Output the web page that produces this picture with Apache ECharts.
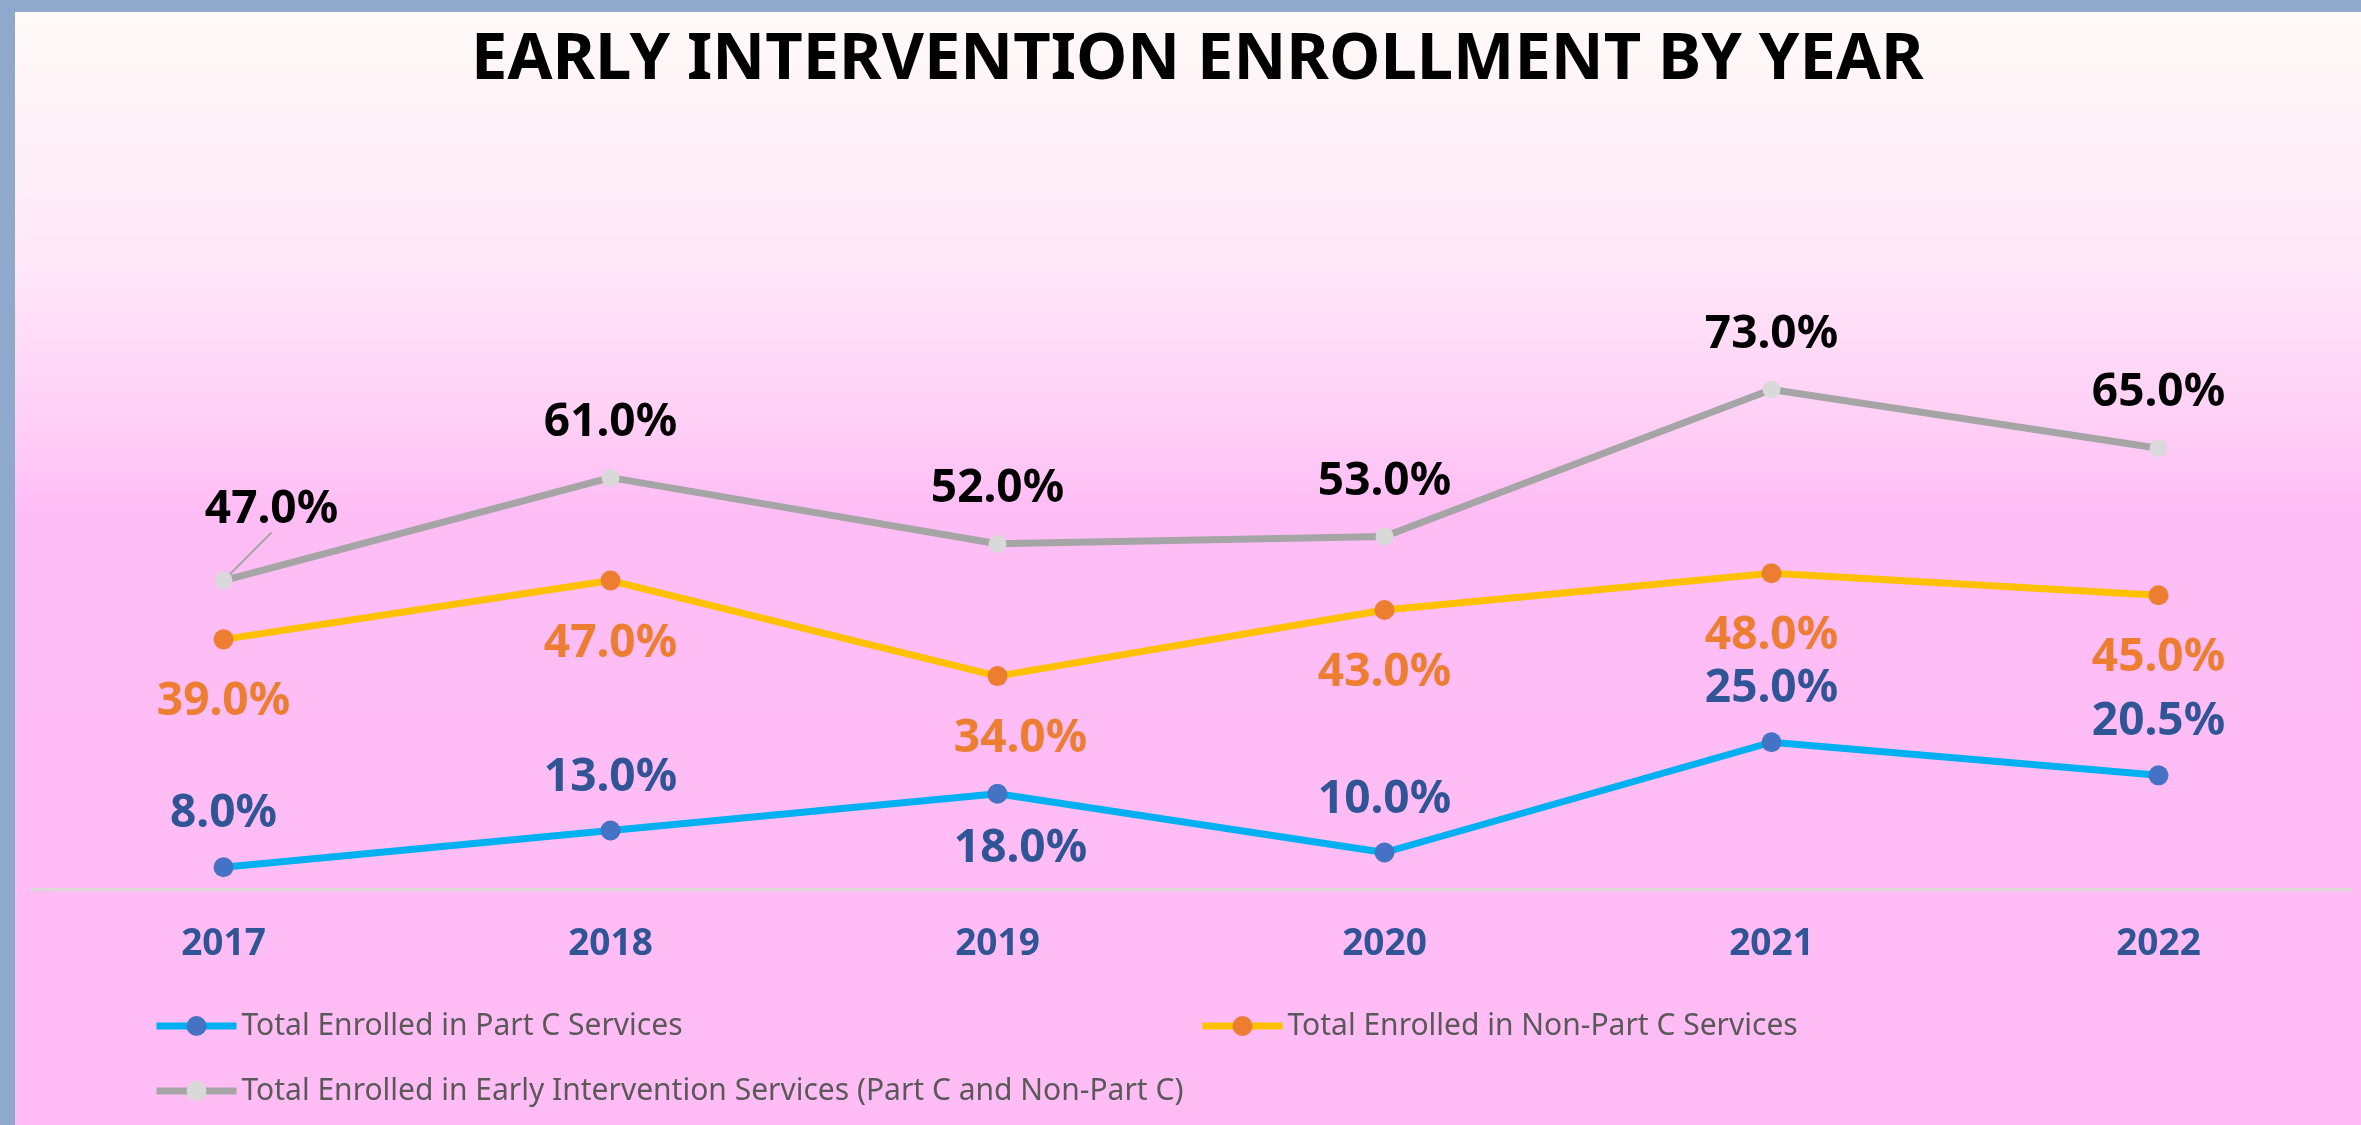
<!DOCTYPE html>
<html>
<head>
<meta charset="utf-8">
<title>Early Intervention Enrollment by Year</title>
<script src="https://cdn.jsdelivr.net/npm/echarts@6/dist/echarts.min.js"></script>
<style>
  html, body { margin: 0; padding: 0; background: #8EA9CC; }
  #chart { width: 2361px; height: 1125px; }
</style>
</head>
<body>
<div id="chart"></div>
<script>
// data
const years = ["2017", "2018", "2019", "2020", "2021", "2022"];
const partC = [8.0, 13.0, 18.0, 10.0, 25.0, 20.5];
const nonPartC = [39.0, 47.0, 34.0, 43.0, 48.0, 45.0];
const totalEI = [47.0, 61.0, 52.0, 53.0, 73.0, 65.0];
const seriesNames = [
  "Total Enrolled in Part C Services",
  "Total Enrolled in Non-Part C Services",
  "Total Enrolled in Early Intervention Services (Part C and Non-Part C)"
];
const gridLineValue = 5;

const FONT = "'Noto Sans', 'Open Sans', sans-serif";

function pctLabel(color, position, distance) {
  return {
    show: true,
    position: position,
    distance: distance,
    color: color,
    fontFamily: FONT,
    fontWeight: "bold",
    fontSize: 46,
    formatter: p => p.value.toFixed(1) + "%"
  };
}

// per-point label tweaks (index -> label override)
function buildData(values, nudge) {
  return values.map((v, i) => {
    const item = { value: v };
    if (nudge[i]) item.label = nudge[i];
    return item;
  });
}

const partCData = buildData(partC, {
  2: { position: "bottom", distance: 22, offset: [23, 0] }
});
const nonPartCData = buildData(nonPartC, {
  2: { offset: [23, 0] }
});
const totalData = buildData(totalEI, {});
totalData[0].labelLine = { show: true, lineStyle: { color: "#A5A5A5", width: 2 } };

const chart = echarts.init(document.getElementById("chart"));
chart.setOption({
  animation: false,
  backgroundColor: "#8EA9CC",
  graphic: [{
    type: "rect",
    z: -10,
    shape: { x: 15, y: 12, width: 2346, height: 1113 },
    style: {
      fill: new echarts.graphic.LinearGradient(0, 0, 0, 1, [
        { offset: 0, color: "#FFFAF8" },
        { offset: 0.22, color: "#FFE8F8" },
        { offset: 0.37, color: "#FFCFF6" },
        { offset: 0.45, color: "#FFBDF5" },
        { offset: 1, color: "#FFBCF5" }
      ])
    }
  }],
  title: {
    text: "EARLY INTERVENTION ENROLLMENT BY YEAR",
    left: 466,
    top: 23,
    textStyle: { fontFamily: FONT, fontWeight: "bold", fontSize: 65, color: "#000" }
  },
  legend: [
    { data: [seriesNames[0]], left: 148, top: 1006 },
    { data: [seriesNames[1]], left: 1194, top: 1006 },
    { data: [seriesNames[2]], left: 148, top: 1071 }
  ].map(l => Object.assign(l, {
    itemWidth: 80,
    itemHeight: 25,
    lineStyle: { width: 7 },
    textStyle: { fontFamily: FONT, fontSize: 30, color: "#595959" }
  })),
  grid: { left: 30, right: 9, top: 338, bottom: 199 },
  xAxis: {
    type: "category",
    data: years,
    boundaryGap: true,
    axisLine: { show: false },
    axisTick: { show: false },
    axisLabel: { margin: 0, color: "#2F5597", fontFamily: FONT, fontWeight: "bold", fontSize: 37 }
  },
  yAxis: {
    type: "value",
    min: 0,
    max: 80,
    interval: 10,
    show: false,
    splitLine: { show: false }
  },
  series: [
    {
      name: seriesNames[0],
      type: "line",
      data: partCData,
      symbol: "circle",
      symbolSize: 20,
      lineStyle: { color: "#00B0F0", width: 7 },
      itemStyle: { color: "#4472C4" },
      label: pctLabel("#2F5597", "top", 20),
      markLine: {
        silent: true,
        symbol: "none",
        label: { show: false },
        lineStyle: { color: "#D9D9D9", width: 3, type: "solid" },
        data: [{ yAxis: gridLineValue }]
      }
    },
    {
      name: seriesNames[1],
      type: "line",
      data: nonPartCData,
      symbol: "circle",
      symbolSize: 20,
      lineStyle: { color: "#FFC000", width: 7 },
      itemStyle: { color: "#ED7D31" },
      label: pctLabel("#ED7D31", "bottom", 30)
    },
    {
      name: seriesNames[2],
      type: "line",
      data: totalData,
      symbol: "circle",
      symbolSize: 18,
      lineStyle: { color: "#A5A5A5", width: 7 },
      itemStyle: { color: "#D9D9D9" },
      label: pctLabel("#000000", "top", 23),
      labelLayout: p => (p.dataIndex === 0 ? { dx: 48, dy: -16 } : {})
    }
  ]
});
</script>
</body>
</html>
